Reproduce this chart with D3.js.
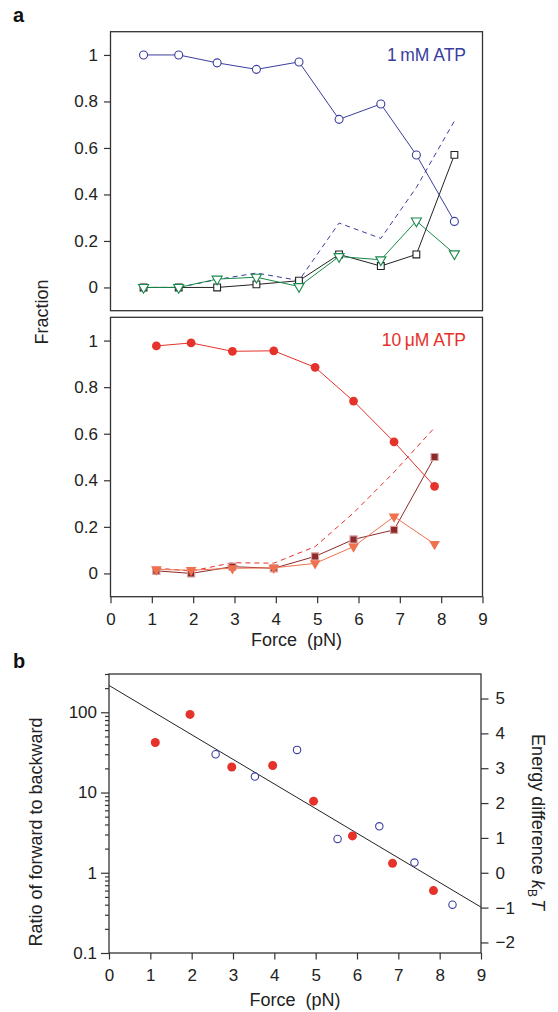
<!DOCTYPE html>
<html>
<head>
<meta charset="utf-8">
<script src="https://cdn.jsdelivr.net/npm/d3@7"></script>
<style>
body { margin: 0; background: #fff; }
svg { font-family: "Liberation Sans", Arial, sans-serif; }
</style>
</head>
<body>
<div id="chart"></div>
<script>
// panel a, 1 mM ATP
const force1 = [0.8, 1.65, 2.58, 3.53, 4.56, 5.53, 6.54, 7.40, 8.32];
const fwd1 = [1.0, 1.0, 0.966, 0.938, 0.970, 0.723, 0.789, 0.570, 0.284];
const back1 = [0, 0, 0, 0.013, 0.029, 0.142, 0.092, 0.142, 0.570];
const detach1 = [0, 0, 0.036, 0.044, 0.004, 0.133, 0.119, 0.286, 0.145];
const rest1 = [0, 0, 0.034, 0.062, 0.030, 0.277, 0.211, 0.430, 0.716];

// panel a, 10 uM ATP
const force10 = [1.11, 1.95, 2.95, 3.95, 4.95, 5.88, 6.86, 7.84];
const fwd10 = [0.977, 0.990, 0.954, 0.956, 0.885, 0.740, 0.565, 0.374];
const back10 = [0.011, 0, 0.029, 0.022, 0.073, 0.146, 0.187, 0.500];
const detach10 = [0.017, 0.014, 0.022, 0.024, 0.043, 0.115, 0.244, 0.126];
const rest10 = [0.023, 0.010, 0.046, 0.044, 0.115, 0.260, 0.435, 0.626];

// panel b, ratio forward/backward
const ratioForce1 = [2.58, 3.53, 4.55, 5.53, 6.54, 7.39, 8.31];
const ratio1 = [30, 15.8, 34, 2.64, 3.79, 1.34, 0.40];
const ratioForce10 = [1.12, 1.96, 2.97, 3.96, 4.95, 5.89, 6.86, 7.85];
const ratio10 = [42, 94, 20.8, 21.7, 7.8, 2.88, 1.31, 0.60];
const fitForce = [0, 9];
const fitRatio = [216, 0.373];

const xTicks = [0, 1, 2, 3, 4, 5, 6, 7, 8, 9];
const fracTicks = [0, 0.2, 0.4, 0.6, 0.8, 1];
const energyTicks = [-2, -1, 0, 1, 2, 3, 4, 5];

const blue = "#3a3e9e", green = "#17894a", black = "#222";
const red = "#e5322b", darkRed = "#8c2b2b", orange = "#ee7150";
const axisCol = "#333";
const tickFont = "17px", titleFont = "18px";

const svg = d3.select("#chart").append("svg")
    .attr("width", 558)
    .attr("height", 1012);

const x = d3.scaleLinear().domain([0, 9]).range([110.5, 482.5]);
const yTop = d3.scaleLinear().domain([-0.1, 1.1]).range([310.7, 31.7]);
const yMid = d3.scaleLinear().domain([-0.1, 1.1]).range([596.7, 317.3]);

function zip(xs, ys) { return xs.map((v, i) => [v, ys[i]]); }

function styleAxis(g) {
    g.select(".domain").remove();
    g.selectAll("line").attr("stroke", axisCol).attr("stroke-width", 1.2);
    g.selectAll("text").attr("fill", "#222").style("font-size", tickFont);
}

function box(xr, yr) {
    svg.append("rect")
        .attr("x", xr[0]).attr("y", yr[1])
        .attr("width", xr[1] - xr[0]).attr("height", yr[0] - yr[1])
        .attr("fill", "none").attr("stroke", axisCol).attr("stroke-width", 1.3);
}

function drawLine(data, xs, ys, color, dash) {
    svg.append("path")
        .datum(data)
        .attr("fill", "none")
        .attr("stroke", color)
        .attr("stroke-width", 1)
        .attr("stroke-dasharray", dash || null)
        .attr("d", d3.line().x(d => xs(d[0])).y(d => ys(d[1])));
}

function drawSymbols(data, xs, ys, type, size, fill, stroke, rot) {
    svg.append("g").selectAll("path")
        .data(data)
        .enter()
        .append("path")
        .attr("d", d3.symbol().type(type).size(size))
        .attr("transform", d => "translate(" + xs(d[0]) + "," + ys(d[1]) + ")" + (rot ? " rotate(180)" : ""))
        .attr("fill", fill)
        .attr("stroke", stroke)
        .attr("stroke-width", 1.1);
}

function drawCircles(data, xs, ys, r, fill, stroke) {
    svg.append("g").selectAll("circle")
        .data(data)
        .enter()
        .append("circle")
        .attr("cx", d => xs(d[0]))
        .attr("cy", d => ys(d[1]))
        .attr("r", r)
        .attr("fill", fill)
        .attr("stroke", stroke)
        .attr("stroke-width", 1.1);
}

// ---- top panel (1 mM)
svg.append("g")
    .attr("transform", "translate(110.5,0)")
    .call(d3.axisLeft(yTop).tickValues(fracTicks).tickSize(6.5).tickPadding(6).tickFormat(d3.format("~g")))
    .call(styleAxis);

drawLine(zip(force1, rest1), x, yTop, blue, "5,4");
drawLine(zip(force1, back1), x, yTop, black);
drawLine(zip(force1, detach1), x, yTop, green);
drawLine(zip(force1, fwd1), x, yTop, blue);
drawSymbols(zip(force1, back1), x, yTop, d3.symbolSquare, 46, "#fff", black);
drawSymbols(zip(force1, detach1), x, yTop, d3.symbolTriangle, 44, "#fff", green, true);
drawCircles(zip(force1, fwd1), x, yTop, 4, "#fff", blue);
box(x.range(), yTop.range());

svg.append("text")
    .attr("x", 466).attr("y", 61)
    .attr("text-anchor", "end")
    .attr("fill", blue)
    .style("font-size", "17.5px")
    .text("1\u2009mM ATP");

// ---- middle panel (10 uM)
svg.append("g")
    .attr("transform", "translate(110.5,0)")
    .call(d3.axisLeft(yMid).tickValues(fracTicks).tickSize(6.5).tickPadding(6).tickFormat(d3.format("~g")))
    .call(styleAxis);

svg.append("g")
    .attr("transform", "translate(0,596.7)")
    .call(d3.axisBottom(x).tickValues(xTicks).tickSize(6.5).tickPadding(10))
    .call(styleAxis);

drawLine(zip(force10, rest10), x, yMid, red, "5,4");
drawLine(zip(force10, back10), x, yMid, darkRed);
drawLine(zip(force10, detach10), x, yMid, orange);
drawLine(zip(force10, fwd10), x, yMid, red);
drawSymbols(zip(force10, back10), x, yMid, d3.symbolSquare, 50, darkRed, "#d9a0a0", false);
drawSymbols(zip(force10, detach10), x, yMid, d3.symbolTriangle, 50, orange, "none", true);
drawCircles(zip(force10, fwd10), x, yMid, 4.4, red, "none");
box(x.range(), yMid.range());

svg.append("text")
    .attr("x", 466).attr("y", 346)
    .attr("text-anchor", "end")
    .attr("fill", red)
    .style("font-size", "17.5px")
    .text("10\u2009\u03bcM ATP");

svg.append("text")
    .attr("transform", "translate(48,312) rotate(-90)")
    .attr("text-anchor", "middle")
    .attr("fill", "#222")
    .style("font-size", titleFont)
    .text("Fraction");

svg.append("text")
    .attr("x", x(4.5)).attr("y", 646)
    .attr("text-anchor", "middle")
    .attr("fill", "#222")
    .style("font-size", titleFont)
    .attr("xml:space", "preserve")
    .text("Force  (pN)");

// ---- panel b
const xb = d3.scaleLinear().domain([0, 9]).range([109, 481]);
const yb = d3.scaleLog().domain([0.1, 300]).range([953, 674]);
const yE = d3.scaleLinear().domain([Math.log(0.1), Math.log(300)]).range([953, 674]);

const isMajor = d => Math.abs(Math.log10(d) - Math.round(Math.log10(d))) < 1e-6;

const leftAxis = svg.append("g")
    .attr("transform", "translate(109,0)")
    .call(d3.axisLeft(yb).tickValues(yb.ticks()).tickSize(8).tickPadding(4)
        .tickFormat(d => isMajor(d) ? d3.format("~g")(d) : ""))
    .call(styleAxis);
leftAxis.selectAll(".tick line").attr("x2", d => isMajor(d) ? -8 : -4);

svg.append("g")
    .attr("transform", "translate(481,0)")
    .call(d3.axisRight(yE).tickValues(energyTicks).tickSize(7.5).tickPadding(7)
        .tickFormat(d => d < 0 ? "\u2212" + Math.abs(d) : d))
    .call(styleAxis);

svg.append("g")
    .attr("transform", "translate(0,953)")
    .call(d3.axisBottom(xb).tickValues(xTicks).tickSize(6.5).tickPadding(9))
    .call(styleAxis);

drawLine(zip(fitForce, fitRatio), xb, yb, black);
drawCircles(zip(ratioForce1, ratio1), xb, yb, 3.7, "#fff", blue);
drawCircles(zip(ratioForce10, ratio10), xb, yb, 4.5, red, "none");
box(xb.range(), yb.range());

svg.append("text")
    .attr("transform", "translate(42,832) rotate(-90)")
    .attr("text-anchor", "middle")
    .attr("fill", "#222")
    .style("font-size", titleFont)
    .text("Ratio of forward to backward");

const eLabel = svg.append("text")
    .attr("transform", "translate(532,822) rotate(90)")
    .attr("text-anchor", "middle")
    .attr("fill", "#222")
    .style("font-size", titleFont);
eLabel.append("tspan").text("Energy difference ");
eLabel.append("tspan").attr("font-style", "italic").text("k");
eLabel.append("tspan").attr("dy", 4).style("font-size", "12px").text("B");
eLabel.append("tspan").attr("dy", -4).attr("dx", 2).attr("font-style", "italic").text("T");

svg.append("text")
    .attr("x", xb(4.5)).attr("y", 1006)
    .attr("text-anchor", "middle")
    .attr("fill", "#222")
    .style("font-size", titleFont)
    .attr("xml:space", "preserve")
    .text("Force  (pN)");

// panel letters
svg.append("text").attr("x", 13).attr("y", 22)
    .style("font-size", "20px").style("font-weight", "bold").attr("fill", "#111").text("a");
svg.append("text").attr("x", 13).attr("y", 668)
    .style("font-size", "20px").style("font-weight", "bold").attr("fill", "#111").text("b");
</script>
</body>
</html>
